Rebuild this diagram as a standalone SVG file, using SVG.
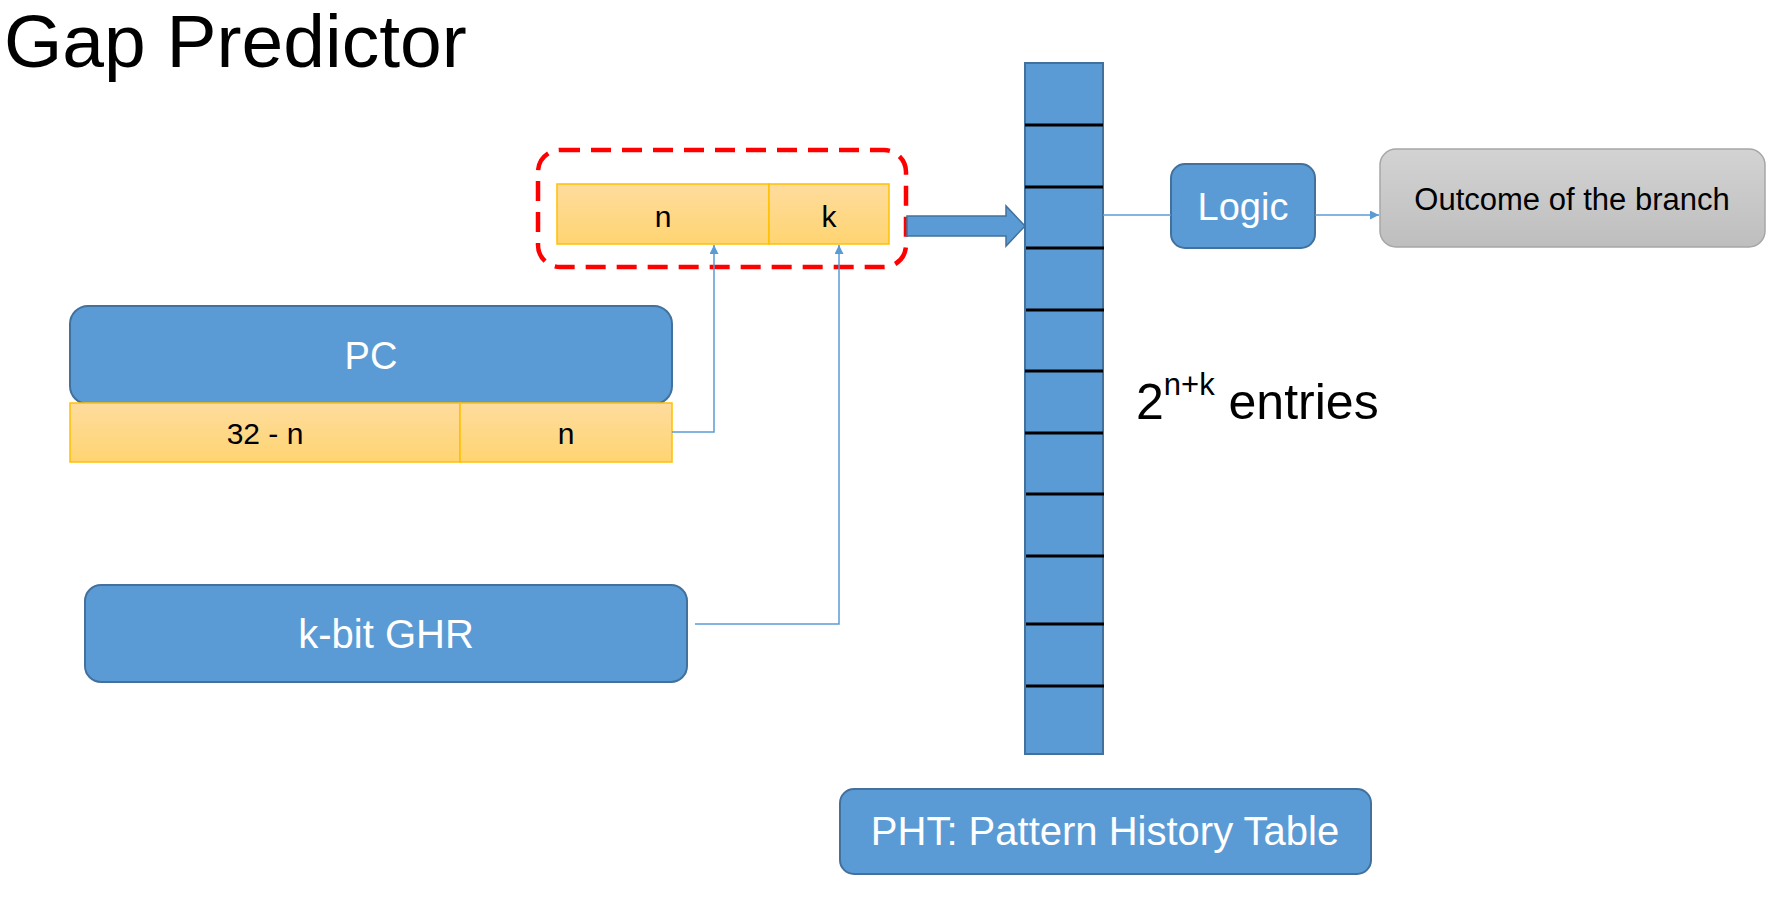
<svg xmlns="http://www.w3.org/2000/svg" width="1768" height="904" viewBox="0 0 1768 904">
<style>
  text { font-family: "Liberation Sans", Arial, sans-serif; }
  .blue { fill: #5B9BD5; stroke: #41719C; stroke-width: 2; }
  .wtxt { fill: #FFFFFF; text-anchor: middle; }
  .btxt { fill: #000000; text-anchor: middle; }
  .orange { fill: url(#gOrange); stroke: #FFC000; stroke-width: 1.5; }
  .conn { fill: none; stroke: #5B9BD5; stroke-width: 1.5; }
  .row { stroke: #000000; stroke-width: 3; }
</style>
<defs>
  <linearGradient id="gOrange" x1="0" y1="0" x2="0" y2="1">
    <stop offset="0" stop-color="#FEDC9E"/>
    <stop offset="1" stop-color="#FFD471"/>
  </linearGradient>
  <linearGradient id="gGray" x1="0" y1="0" x2="0" y2="1">
    <stop offset="0" stop-color="#D3D3D3"/>
    <stop offset="1" stop-color="#BEBEBE"/>
  </linearGradient>
  <marker id="arr" viewBox="0 0 10 10" refX="10" refY="5" markerWidth="6" markerHeight="6" orient="auto" markerUnits="strokeWidth">
    <path d="M0,0 L10,5 L0,10 Z" fill="#5B9BD5"/>
  </marker>
</defs>
<rect width="1768" height="904" fill="#FFFFFF"/>

<g id="title">
  <text x="4" y="67" font-size="75" fill="#000000">Gap Predictor</text>
</g>

<g id="index-group">
  <rect x="538" y="150" width="368" height="117" rx="22" fill="none" stroke="#FF0000" stroke-width="4.5" stroke-dasharray="20 11"/>
  <rect class="orange" x="557" y="184" width="212" height="60"/>
  <text class="btxt" x="663" y="227" font-size="30">n</text>
  <rect class="orange" x="769" y="184" width="120" height="60"/>
  <text class="btxt" x="829" y="227" font-size="30">k</text>
</g>

<g id="pc">
  <rect class="blue" x="70" y="306" width="602" height="98" rx="18"/>
  <text class="wtxt" x="371" y="369" font-size="38">PC</text>
  <rect class="orange" x="70" y="403" width="390" height="59"/>
  <text class="btxt" x="265" y="444" font-size="30">32 - n</text>
  <rect class="orange" x="460" y="403" width="212" height="59"/>
  <text class="btxt" x="566" y="444" font-size="30">n</text>
</g>

<g id="ghr">
  <rect class="blue" x="85" y="585" width="602" height="97" rx="16"/>
  <text class="wtxt" x="386" y="648" font-size="40">k-bit GHR</text>
</g>

<g id="pht">
  <rect class="blue" x="1025" y="63" width="78" height="691"/>
  <line class="row" x1="1025" y1="125" x2="1103" y2="125"/>
  <line class="row" x1="1025" y1="187" x2="1103" y2="187"/>
  <line class="row" x1="1026" y1="248" x2="1104" y2="248"/>
  <line class="row" x1="1026" y1="310" x2="1104" y2="310"/>
  <line class="row" x1="1025" y1="371" x2="1103" y2="371"/>
  <line class="row" x1="1025" y1="433" x2="1103" y2="433"/>
  <line class="row" x1="1026" y1="494" x2="1104" y2="494"/>
  <line class="row" x1="1026" y1="556" x2="1104" y2="556"/>
  <line class="row" x1="1026" y1="624" x2="1104" y2="624"/>
  <line class="row" x1="1026" y1="686" x2="1104" y2="686"/>
</g>

<g id="entries">
  <text x="1136" y="419" font-size="50" fill="#000000">2<tspan font-size="31" dy="-24">n+k</tspan><tspan dy="24"> entries</tspan></text>
</g>

<g id="logic">
  <rect class="blue" x="1171" y="164" width="144" height="84" rx="14"/>
  <text class="wtxt" x="1243" y="220" font-size="38">Logic</text>
</g>

<g id="outcome">
  <rect x="1380" y="149" width="385" height="98" rx="16" fill="url(#gGray)" stroke="#A6A6A6" stroke-width="1.5"/>
  <text class="btxt" x="1572" y="210" font-size="31">Outcome of the branch</text>
</g>

<g id="pht-label">
  <rect class="blue" x="840" y="789" width="531" height="85" rx="14"/>
  <text class="wtxt" x="1105" y="845" font-size="40">PHT: Pattern History Table</text>
</g>

<g id="connectors">
  <path class="conn" d="M672,432 H714 V245" marker-end="url(#arr)"/>
  <path class="conn" d="M695,624 H839 V245" marker-end="url(#arr)" stroke="#9DC3E6"/>
  <path d="M907,216 H1006 V206 L1025,226 L1006,246 V236 H907 Z" fill="#5B9BD5" stroke="#41719C" stroke-width="1.5"/>
  <path class="conn" d="M1103,215 H1171"/>
  <path class="conn" d="M1315,215 H1379" marker-end="url(#arr)"/>
</g>
</svg>
